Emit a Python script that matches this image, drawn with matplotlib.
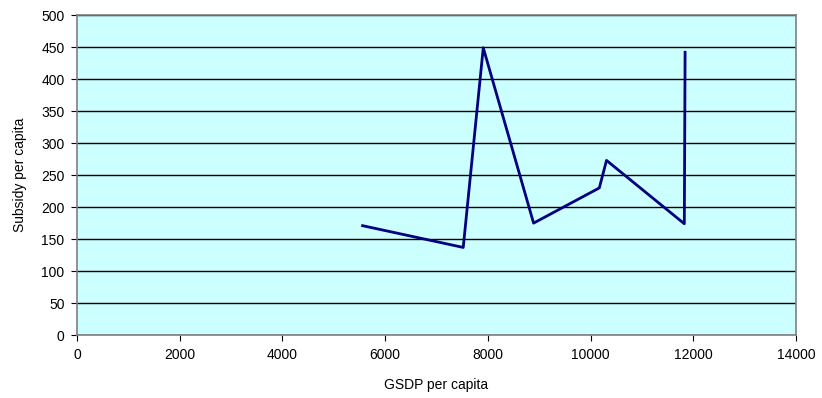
import matplotlib
matplotlib.use('Agg')
import matplotlib.pyplot as plt

plt.rcParams['font.family'] = ['Liberation Sans', 'DejaVu Sans']
plt.rcParams['font.size'] = 10

gsdp = [5560, 7520, 7910, 8890, 10170, 10310, 11825, 11840]
subsidy = [171, 137, 449, 175, 230, 273, 174, 442]

fig = plt.figure(figsize=(8.22, 3.98), dpi=100)
ax = fig.add_axes([0.0937, 0.158, 0.8747, 0.804])
ax.set_facecolor('#CCFFFF')
ax.plot(gsdp, subsidy, color='#000080', lw=2, zorder=3)

ax.set_xlim(0, 14000)
ax.set_ylim(0, 500)
ax.set_xticks(range(0, 14001, 2000))
ax.set_yticks(range(0, 501, 50))
ax.yaxis.grid(True, color='black', lw=1)
ax.set_axisbelow(True)
for s in ax.spines.values():
    s.set_color('#808080')
    s.set_linewidth(1.2)
ax.tick_params(direction='out', length=4, color='black', pad=5)
ax.set_xlabel('GSDP per capita', labelpad=12)
ax.set_ylabel('Subsidy per capita', labelpad=10)

fig.savefig('out.png', dpi=100)
